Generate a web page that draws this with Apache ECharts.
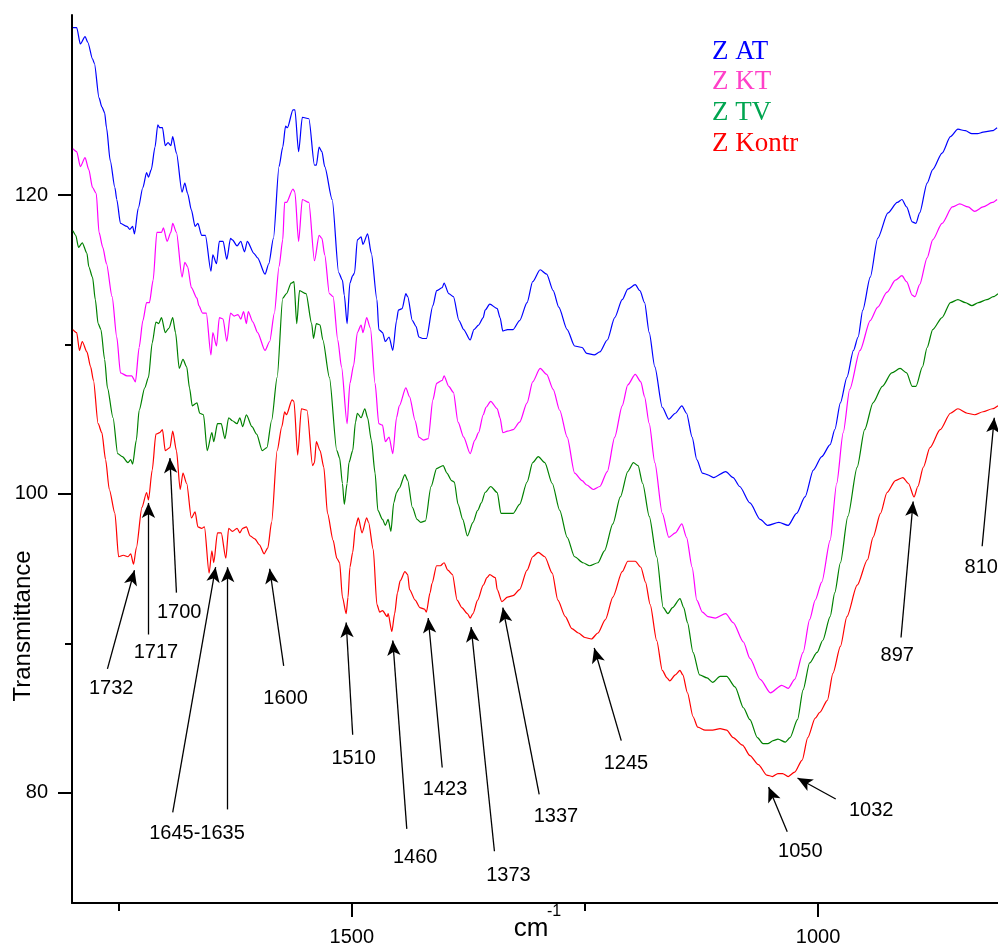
<!DOCTYPE html>
<html>
<head>
<meta charset="utf-8">
<title>FTIR spectra</title>
<script src="https://cdn.jsdelivr.net/npm/echarts@6/dist/echarts.min.js"></script>
<style>
  html, body { margin: 0; padding: 0; background: #fff; }
  #chart { width: 998px; height: 947px; }
</style>
</head>
<body>
<div id="chart"></div>
<script>
// spectra, [wavenumber cm-1, transmittance]
const zAT = [[1799,131.2],[1795,131.2],[1791,130.1],[1786,130.6],[1783,130.2],[1778,129.1],[1776,128.8],[1771,126.5],[1768,125.9],[1765,125.5],[1763,124.5],[1759,122.3],[1754,120.5],[1752,119.7],[1748,118.1],[1741,117.9],[1738,117.7],[1735,117.9],[1733,117.4],[1729,119.1],[1724,120.5],[1720,121.5],[1718,121.2],[1715,121.7],[1711,123.2],[1708,124.7],[1706,124.5],[1703,124.5],[1700,123.3],[1697,123.5],[1694,123.3],[1692,123.9],[1688,122.8],[1682,120.2],[1679,120.8],[1676,120.1],[1672,119.0],[1668,117.9],[1665,118.1],[1661,117.3],[1657,117.3],[1651,114.9],[1649,116.0],[1645,115.4],[1642,116.9],[1638,116.9],[1634,115.7],[1630,117.1],[1628,117.0],[1623,116.6],[1619,116.9],[1615,116.2],[1612,116.9],[1605,116.1],[1601,115.8],[1593,114.7],[1589,115.4],[1584,117.1],[1578,121.9],[1574,123.2],[1571,124.6],[1569,124.5],[1563,125.7],[1561,125.7],[1557,122.9],[1553,125.2],[1546,125.1],[1540,122.0],[1538,122.0],[1535,123.2],[1532,122.9],[1529,121.9],[1521,119.7],[1514,114.8],[1510,114.3],[1508,113.3],[1505,111.4],[1502,114.1],[1499,114.6],[1497,114.8],[1494,117.0],[1490,117.2],[1488,116.7],[1483,117.4],[1479,116.1],[1473,113.0],[1471,111.0],[1467,110.8],[1464,110.2],[1460,110.5],[1456,109.6],[1452,111.6],[1450,112.3],[1446,112.4],[1442,113.4],[1440,113.2],[1435,111.6],[1431,111.2],[1428,110.5],[1424,110.4],[1420,110.4],[1413,112.6],[1409,113.6],[1403,113.8],[1401,114.1],[1396,113.4],[1391,113.2],[1385,111.6],[1380,111.0],[1373,110.3],[1369,111.0],[1364,111.3],[1359,111.8],[1357,112.3],[1352,112.7],[1344,112.4],[1341,111.8],[1338,110.9],[1333,111.0],[1327,111.0],[1320,111.6],[1312,112.8],[1306,114.2],[1298,115.0],[1291,114.7],[1284,113.6],[1278,112.5],[1269,111.0],[1261,109.9],[1253,109.8],[1248,109.4],[1240,109.3],[1234,109.5],[1226,110.3],[1218,111.8],[1210,113.0],[1204,113.7],[1196,114.0],[1191,113.6],[1186,112.8],[1181,110.8],[1175,108.5],[1167,105.8],[1160,105.0],[1153,105.4],[1146,105.9],[1141,105.4],[1135,103.8],[1130,102.3],[1124,101.4],[1119,101.3],[1112,101.1],[1099,101.5],[1091,101.1],[1084,100.5],[1073,99.4],[1062,98.3],[1054,97.9],[1042,98.1],[1032,97.9],[1023,98.7],[1014,99.8],[1005,101.6],[996,102.5],[987,103.3],[982,104.3],[976,106.1],[969,107.8],[962,109.6],[957,110.5],[952,112.3],[944,114.5],[936,117.1],[925,118.8],[915,119.5],[910,119.7],[905,119.2],[899,118.2],[895,118.1],[891,118.8],[883,120.8],[877,121.7],[867,122.8],[858,123.9],[850,124.4],[842,124.3],[835,124.1],[829,124.1],[823,124.2],[813,124.3],[808,124.5]];

const zKT = [[1799,123.1],[1795,122.9],[1791,121.9],[1786,122.5],[1782,121.7],[1778,120.5],[1774,120.1],[1771,117.5],[1767,116.5],[1763,115.4],[1757,113.2],[1752,110.5],[1748,108.1],[1741,107.9],[1736,107.9],[1732,107.5],[1728,109.8],[1724,111.6],[1720,112.8],[1717,112.8],[1713,114.3],[1709,117.5],[1704,117.5],[1702,117.8],[1698,116.9],[1694,117.5],[1692,118.1],[1688,117.5],[1682,114.5],[1679,115.5],[1676,115.2],[1672,113.8],[1666,113.1],[1664,112.6],[1660,112.1],[1656,112.1],[1651,109.3],[1649,110.8],[1645,109.9],[1642,111.8],[1638,111.7],[1634,110.2],[1630,112.1],[1626,111.9],[1622,112.0],[1619,111.7],[1616,112.2],[1613,111.4],[1611,112.2],[1606,111.5],[1601,110.8],[1593,109.6],[1588,110.2],[1583,112.1],[1578,115.2],[1574,117.0],[1572,119.5],[1570,119.5],[1563,120.4],[1561,120.2],[1557,116.9],[1553,119.7],[1546,119.5],[1540,115.6],[1535,117.3],[1532,117.1],[1529,116.0],[1524,113.4],[1520,113.2],[1515,110.3],[1511,108.5],[1505,104.7],[1502,107.4],[1498,108.6],[1494,110.8],[1490,111.3],[1488,110.8],[1484,111.8],[1480,111.1],[1475,107.4],[1471,104.7],[1467,104.6],[1464,103.5],[1460,103.8],[1456,102.7],[1452,105.1],[1449,105.9],[1442,107.1],[1438,106.5],[1432,104.9],[1428,103.8],[1423,103.6],[1418,103.7],[1413,106.3],[1409,107.4],[1403,107.6],[1401,107.9],[1396,107.2],[1391,106.8],[1386,104.8],[1380,103.8],[1373,102.7],[1368,103.6],[1364,104.1],[1359,105.3],[1356,105.8],[1351,106.2],[1344,105.7],[1341,105.1],[1338,104.1],[1333,104.2],[1327,104.3],[1320,104.8],[1312,106.1],[1306,107.5],[1298,108.4],[1291,108.0],[1284,107.0],[1277,105.6],[1269,103.8],[1261,101.4],[1253,100.9],[1248,100.6],[1241,100.3],[1234,100.5],[1226,101.5],[1218,103.8],[1210,105.9],[1204,107.3],[1196,108.0],[1190,107.5],[1186,106.5],[1181,104.7],[1175,102.1],[1167,98.7],[1160,97.1],[1153,97.4],[1146,98.0],[1141,97.1],[1135,95.1],[1130,92.9],[1124,92.1],[1118,91.8],[1110,91.7],[1099,92.0],[1091,91.4],[1080,90.1],[1073,89.0],[1062,87.6],[1051,86.7],[1039,87.2],[1032,87.0],[1025,87.6],[1016,89.4],[1009,91.6],[1003,92.9],[996,94.1],[987,96.9],[980,100.7],[973,104.1],[966,107.0],[955,109.6],[944,111.6],[936,112.5],[926,113.5],[917,114.3],[910,114.6],[905,114.2],[899,113.3],[896,113.2],[891,114.0],[883,115.8],[877,117.0],[867,118.1],[856,119.2],[848,119.4],[839,119.2],[832,118.9],[823,119.2],[813,119.5],[808,119.7]];

const zTV = [[1799,117.6],[1796,117.3],[1793,116.5],[1789,116.8],[1784,116.1],[1782,115.2],[1778,114.5],[1775,113.0],[1772,111.4],[1769,111.0],[1765,109.0],[1762,107.1],[1756,105.1],[1751,102.7],[1746,102.5],[1740,102.1],[1737,102.3],[1735,102.0],[1731,103.6],[1728,105.6],[1722,107.1],[1718,107.8],[1714,110.1],[1710,111.5],[1707,111.4],[1704,111.8],[1700,110.8],[1696,111.1],[1692,111.8],[1689,110.8],[1685,108.4],[1681,109.0],[1677,108.5],[1674,107.1],[1671,105.9],[1666,106.1],[1663,105.4],[1659,105.3],[1655,102.9],[1650,104.1],[1648,103.5],[1644,104.7],[1640,104.7],[1636,103.7],[1632,105.1],[1628,104.9],[1623,104.7],[1620,105.1],[1617,104.5],[1613,105.3],[1607,104.5],[1602,104.0],[1596,102.9],[1591,103.1],[1586,104.9],[1580,107.8],[1574,113.1],[1570,113.4],[1565,114.1],[1562,114.2],[1559,111.4],[1556,113.6],[1549,113.4],[1543,111.4],[1541,110.4],[1538,111.4],[1534,111.3],[1531,110.3],[1524,107.8],[1516,102.9],[1513,102.4],[1510,100.7],[1508,99.3],[1505,100.7],[1503,102.1],[1499,102.9],[1496,104.8],[1494,105.4],[1490,105.1],[1486,105.7],[1483,105.1],[1479,103.6],[1475,101.4],[1472,98.9],[1467,98.3],[1464,97.9],[1461,98.3],[1458,97.5],[1455,99.4],[1452,100.1],[1449,100.4],[1443,101.3],[1440,100.9],[1435,99.1],[1430,98.3],[1426,98.1],[1421,98.2],[1415,100.5],[1409,101.7],[1402,101.9],[1398,101.4],[1393,100.9],[1390,100.8],[1386,99.3],[1381,98.3],[1376,97.2],[1370,98.1],[1365,98.9],[1361,99.4],[1357,100.1],[1351,100.5],[1344,100.1],[1340,98.7],[1334,98.7],[1327,98.7],[1320,99.3],[1312,100.8],[1306,102.1],[1300,102.5],[1293,102.1],[1285,100.7],[1277,98.9],[1269,97.1],[1261,95.8],[1252,95.4],[1245,95.2],[1236,95.4],[1229,96.2],[1220,98.0],[1212,99.8],[1204,101.5],[1198,102.1],[1193,101.9],[1188,100.7],[1181,98.5],[1173,95.8],[1166,92.4],[1161,92.0],[1156,92.4],[1148,93.0],[1144,92.4],[1140,91.4],[1134,89.4],[1127,87.9],[1119,87.7],[1113,87.4],[1105,87.8],[1098,87.8],[1089,87.1],[1080,85.7],[1073,84.9],[1065,83.7],[1059,83.3],[1054,83.3],[1048,83.5],[1043,83.6],[1035,83.4],[1030,83.7],[1022,84.9],[1016,86.9],[1009,88.7],[1001,89.4],[995,90.2],[987,91.8],[982,93.4],[976,95.4],[968,98.5],[958,101.8],[950,104.3],[941,106.1],[931,107.2],[921,108.1],[912,108.4],[905,108.1],[899,107.2],[895,107.2],[888,108.5],[883,109.8],[877,111.0],[867,111.8],[858,112.8],[850,113.0],[842,112.8],[835,112.6],[828,112.8],[819,113.0],[812,113.2],[807,113.4]];

const zKontr = [[1799,111.0],[1795,110.8],[1792,109.6],[1789,110.2],[1784,109.5],[1780,108.5],[1777,107.6],[1772,104.7],[1768,104.1],[1764,102.3],[1760,100.3],[1754,98.7],[1750,95.8],[1745,95.9],[1740,95.8],[1737,96.0],[1734,95.3],[1731,96.4],[1725,99.1],[1720,100.1],[1718,99.6],[1714,101.6],[1710,104.0],[1706,104.1],[1703,104.3],[1700,102.9],[1695,103.1],[1692,104.2],[1688,102.9],[1684,100.3],[1681,101.4],[1677,100.7],[1672,98.4],[1668,98.8],[1665,97.8],[1661,97.7],[1658,97.8],[1653,94.7],[1650,96.2],[1648,95.4],[1644,97.4],[1640,97.4],[1635,95.7],[1632,97.7],[1628,97.5],[1623,97.7],[1620,97.4],[1617,97.7],[1613,97.8],[1609,97.2],[1604,97.0],[1599,96.6],[1594,96.0],[1590,96.4],[1586,98.1],[1580,102.9],[1575,104.5],[1572,105.5],[1570,105.3],[1564,106.3],[1562,106.2],[1558,102.6],[1554,105.7],[1548,105.6],[1542,101.9],[1540,102.1],[1538,103.5],[1534,102.9],[1530,101.8],[1526,98.7],[1520,96.9],[1516,95.7],[1513,95.4],[1510,93.1],[1506,92.0],[1504,93.1],[1502,95.1],[1499,96.1],[1496,97.8],[1493,98.4],[1489,97.4],[1484,98.4],[1482,98.1],[1477,96.3],[1473,92.6],[1470,92.1],[1467,92.2],[1462,91.8],[1461,92.0],[1457,90.8],[1454,92.0],[1451,93.4],[1448,94.2],[1443,94.8],[1440,94.6],[1438,93.6],[1432,92.9],[1427,92.4],[1422,92.3],[1420,92.1],[1416,93.4],[1414,94.0],[1409,95.2],[1405,95.2],[1401,95.4],[1397,94.9],[1392,94.6],[1387,92.9],[1382,92.4],[1376,92.0],[1373,91.7],[1370,92.0],[1365,92.9],[1359,93.9],[1355,94.4],[1352,94.6],[1346,94.4],[1344,93.6],[1339,92.8],[1333,93.1],[1327,93.2],[1320,93.6],[1312,94.9],[1306,95.8],[1300,96.1],[1293,95.8],[1285,94.7],[1279,92.9],[1271,91.8],[1264,91.0],[1257,90.7],[1250,90.4],[1243,90.3],[1236,90.7],[1228,91.6],[1220,93.1],[1210,94.8],[1204,95.5],[1196,95.5],[1190,95.1],[1185,94.1],[1180,92.6],[1173,90.2],[1167,88.2],[1162,87.7],[1159,87.5],[1153,87.9],[1148,88.2],[1145,87.9],[1140,86.7],[1134,85.1],[1129,84.4],[1121,84.2],[1113,84.2],[1105,84.3],[1098,84.2],[1091,83.7],[1081,83.2],[1073,82.5],[1064,81.9],[1055,81.2],[1049,81.1],[1043,81.3],[1038,81.3],[1032,81.1],[1025,81.4],[1017,82.2],[1011,83.7],[1003,85.0],[998,85.4],[990,86.2],[984,88.0],[976,89.8],[969,91.8],[958,93.9],[947,95.6],[941,97.1],[933,98.7],[926,100.1],[917,100.9],[909,101.1],[903,100.7],[897,99.8],[893,100.5],[887,101.8],[880,103.1],[869,104.3],[858,105.4],[850,105.7],[840,105.4],[832,105.3],[823,105.5],[813,105.7],[807,105.9]];

// peak annotations: label text, where the label sits, arrow tail -> arrow tip
const peakNames = ['1732','1717','1700','1645-1635','1600','1510','1460','1423','1373','1337','1245','1050','1032','897','810'];
const peakLabelAt = [[1758,87.0],[1710,89.4],[1685,92.1],[1666,77.3],[1571,86.3],[1498,82.3],[1432,75.7],[1400,80.2],[1332,74.5],[1281,78.4],[1206,82.0],[1019,76.1],[943,78.8],[915,89.2],[825,95.1]];
const peakArrows = [
  [[1762,88.3],[1733,94.9]],
  [[1718,90.6],[1718,99.4]],
  [[1688,93.4],[1695,102.4]],
  [[1692,78.7],[1646,95.1]],
  [[1633,78.9],[1633,95.1]],
  [[1573,88.5],[1588,95.0]],
  [[1499,83.9],[1506,91.4]],
  [[1441,77.6],[1456,90.2]],
  [[1403,81.7],[1418,91.7]],
  [[1347,76.1],[1372,91.1]],
  [[1299,79.9],[1338,92.4]],
  [[1211,83.5],[1240,89.7]],
  [[1033,77.4],[1053,80.4]],
  [[981,79.6],[1022,81.0]],
  [[911,90.4],[898,99.5]],
  [[824,96.5],[811,105.1]]
];

const xMajor = [1500, 1000];
const xMinor = [1750, 1250];
const yMajor = [80, 100, 120];
const yMinor = [90, 110];

const legendNames = ['Z AT', 'Z KT', 'Z TV', 'Z Kontr'];
const legendColors = ['#0000ff', '#ff40c8', '#00a550', '#ff0000'];
const lineColors = ['#0000ff', '#ff00ff', '#008000', '#ff0000'];

const sans = "'Liberation Sans', Arial, sans-serif";
const serif = "'Liberation Serif', 'Times New Roman', serif";

const chart = echarts.init(document.getElementById('chart'));

function spectrum(name, data, color) {
  return {
    name: name,
    type: 'line',
    data: data,
    showSymbol: false,
    symbol: 'none',
    smooth: 0.25,
    smoothMonotone: 'x',
    lineStyle: { color: color, width: 1.2 },
    itemStyle: { color: color },
    emphasis: { disabled: true },
    silent: true,
    animation: false
  };
}

function plain(v) { return String(v); }

function xAx(ticks, len, labels) {
  return {
    type: 'value', min: 807, max: 1800, inverse: true, position: 'bottom',
    axisLine: { show: labels, onZero: false, lineStyle: { color: '#000', width: 2 } },
    axisTick: { show: true, customValues: ticks, length: len, lineStyle: { color: '#000', width: 2 } },
    axisLabel: { show: labels, customValues: ticks, margin: 24, color: '#000', fontSize: 20, fontFamily: sans, formatter: plain },
    splitLine: { show: false }
  };
}
function yAx(ticks, len, labels) {
  return {
    type: 'value', min: 72.64, max: 132.04, position: 'left',
    axisLine: { show: labels, onZero: false, lineStyle: { color: '#000', width: 2 } },
    axisTick: { show: true, customValues: ticks, length: len, lineStyle: { color: '#000', width: 2 } },
    axisLabel: { show: labels, customValues: ticks, margin: 24, color: '#000', fontSize: 20, fontFamily: sans, formatter: plain },
    splitLine: { show: false }
  };
}

const legendTop = [52, 82, 113, 144];
const graphics = legendNames.map(function (n, i) {
  return {
    type: 'text', x: 712, y: legendTop[i],
    style: { text: n, fill: legendColors[i], font: '27px ' + serif, align: 'left', verticalAlign: 'middle', textAlign: 'left', textVerticalAlign: 'middle' }
  };
});
graphics.push({
  type: 'text', x: 23, y: 626, rotation: Math.PI / 2,
  style: { text: 'Transmittance', fill: '#000', font: '24px ' + sans, align: 'center', verticalAlign: 'middle', textAlign: 'center', textVerticalAlign: 'middle' }
});
graphics.push({
  type: 'text', x: 531, y: 929,
  style: { text: 'cm', fill: '#000', font: '26px ' + sans, align: 'center', verticalAlign: 'middle', textAlign: 'center', textVerticalAlign: 'middle' }
});
graphics.push({
  type: 'text', x: 547, y: 912,
  style: { text: '-1', fill: '#000', font: '16px ' + sans, align: 'left', verticalAlign: 'middle', textAlign: 'left', textVerticalAlign: 'middle' }
});

const option = {
  backgroundColor: '#fff',
  animation: false,
  grid: { left: 72, right: 0, top: 15, bottom: 44, containLabel: false, outerBoundsMode: 'none' },
  xAxis: [xAx(xMajor, 14, true), xAx(xMinor, 8, false)],
  yAxis: [yAx(yMajor, 14, true), yAx(yMinor, 7, false)],
  graphic: graphics,
  series: [
    spectrum('Z AT', zAT, lineColors[0]),
    spectrum('Z KT', zKT, lineColors[1]),
    spectrum('Z TV', zTV, lineColors[2]),
    spectrum('Z Kontr', zKontr, lineColors[3]),
    {
      name: 'peaks',
      type: 'scatter',
      data: peakLabelAt.map(function (p, i) { return { value: p, name: peakNames[i] }; }),
      symbolSize: 0,
      itemStyle: { color: '#000', opacity: 1 },
      label: {
        show: true, position: 'inside', color: '#000', fontSize: 20, fontFamily: sans,
        textBorderWidth: 0, opacity: 1,
        formatter: function (p) { return p.name; }
      },
      emphasis: { disabled: true },
      silent: true,
      animation: false,
      markLine: {
        silent: true,
        animation: false,
        symbol: ['none', 'arrow'],
        symbolSize: [10, 15],
        lineStyle: { color: '#000', width: 1.3, type: 'solid' },
        label: { show: false },
        emphasis: { disabled: true },
        data: peakArrows.map(function (a) { return [{ coord: a[0] }, { coord: a[1] }]; })
      }
    }
  ]
};

chart.setOption(option);
</script>
</body>
</html>
